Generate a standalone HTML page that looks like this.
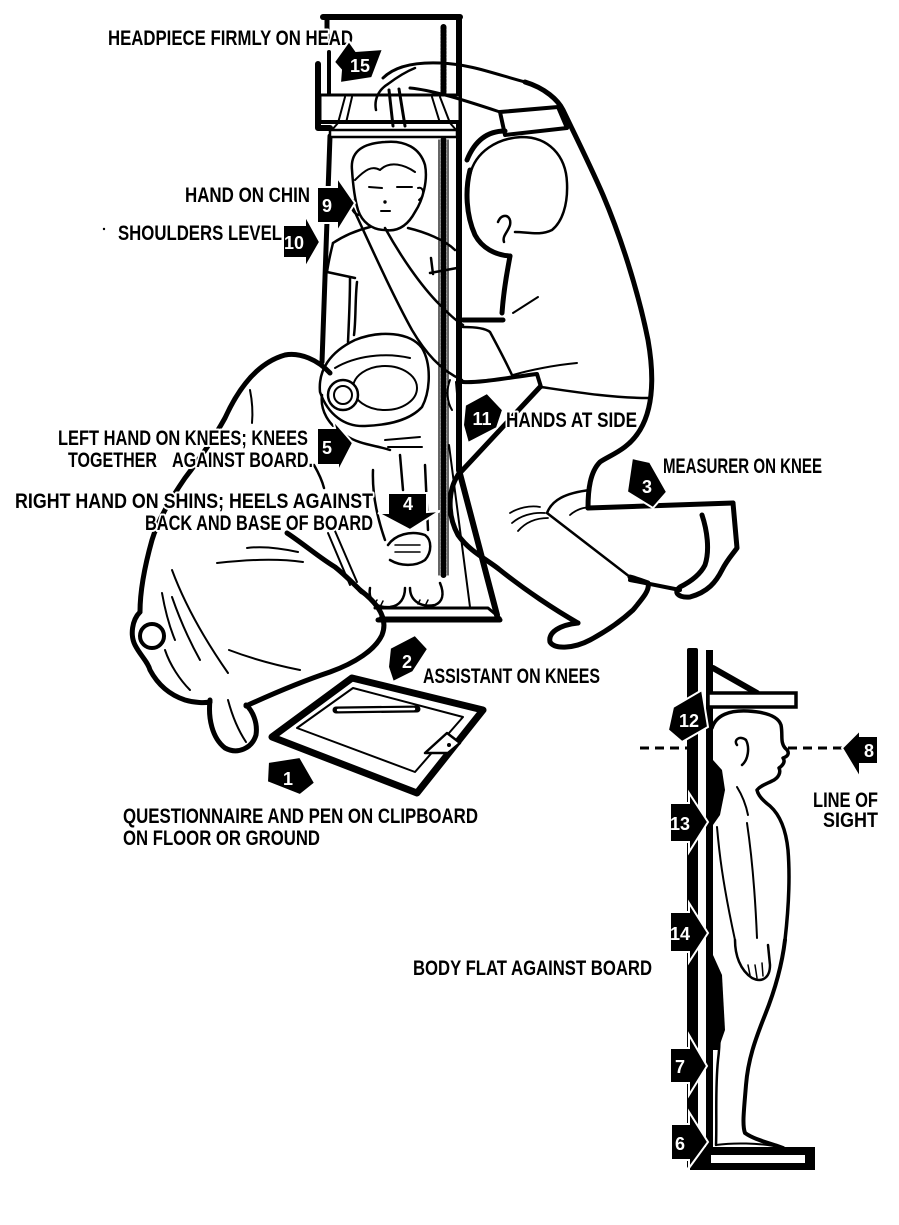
<!DOCTYPE html>
<html><head><meta charset="utf-8">
<style>
html,body{margin:0;padding:0;background:#fff;}
svg{display:block;}
.t{font-family:"Liberation Sans Narrow","Liberation Sans",sans-serif;font-weight:bold;font-size:21px;fill:#000;stroke:#fff;stroke-width:4px;paint-order:stroke;stroke-linejoin:round;}
.n{font-family:"Liberation Sans Narrow","Liberation Sans",sans-serif;font-weight:bold;font-size:18px;fill:#fff;text-anchor:middle;}
</style></head><body>
<svg width="899" height="1225" viewBox="0 0 899 1225" xmlns="http://www.w3.org/2000/svg">
<rect width="899" height="1225" fill="#fff"/>

<g fill="none" stroke="#000" stroke-linecap="round" stroke-linejoin="round">
  <!-- ===== Seated measuring board ===== -->
  <path d="M323,17 H460" stroke-width="6"/>
  <path d="M327,17 V40" stroke-width="5"/>
  <path d="M459,17 V470 L497,615" stroke-width="6"/>
  <path d="M449,445 L470,607" stroke-width="2"/>
  <!-- tape -->
  <path d="M443.5,27 V95" stroke-width="6" stroke-dasharray="2 1.5"/>
  <path d="M443.5,140 V575" stroke-width="6" stroke-dasharray="2 1.5"/>
  <path d="M439,140 V575 M448,140 V575" stroke-width="1.2"/>
  <!-- board left edge -->
  <path d="M330,136 L322,362" stroke-width="5"/>
  <path d="M314,465 C318,472 322,480 324,488" stroke-width="2.5"/>
  <path d="M328,533 L350,585 M335,531 L357,582" stroke-width="2"/>
  <!-- base -->
  <path d="M375,608 H488 L500,618 H380" stroke-width="3"/>
  <path d="M378,620 H500" stroke-width="5"/>
  <!-- clamp -->
  <path d="M318,64 V128 H330" stroke-width="6"/>
  <path d="M329,52 V96" stroke-width="4"/>
  <!-- headpiece -->
  <rect x="320" y="95" width="140" height="27" stroke-width="3" fill="#fff"/>
  <path d="M320,122 H460" stroke-width="4"/>
  <path d="M345,97 L338,123 M352,97 L346,123 M432,97 L440,123 M440,97 L450,123" stroke-width="2"/>
  <path d="M338,123 L331,131 M450,123 L457,131" stroke-width="2"/>
  <rect x="330" y="130" width="127" height="7" stroke-width="2.5" fill="#fff"/>

  <!-- ===== Measurer ===== -->
  <path d="M376,110 C374,100 378,90 388,84 C396,78 405,72 415,68" stroke-width="2.5"/>
  <path d="M389,90 L393,126 M399,89 L405,126" stroke-width="3"/>
  <path d="M383,78 C395,66 415,62 440,63 C470,64 495,74 525,82" stroke-width="3"/>
  <path d="M410,88 C430,90 455,97 500,112" stroke-width="3"/>
  <polygon points="500,112 558,107 567,128 505,135" fill="#fff" stroke-width="4"/>
  <path d="M525,82 C545,88 558,100 563,110 C575,135 590,165 603,195 C620,235 638,290 648,340 C655,380 652,410 640,430 C628,450 610,455 600,462 C590,472 588,490 588,508" stroke-width="5"/>
  <path d="M467,160 C475,140 488,131 505,131" stroke-width="5"/>
  <path d="M470,175 C475,152 497,138 522,137 C548,137 566,155 567,183 C568,205 562,222 552,230 C540,236 528,232 515,232" stroke-width="2.5"/>
  <path d="M470,170 C465,190 466,215 475,235 C482,248 495,255 510,256" stroke-width="5"/>
  <path d="M498,222 C502,212 512,215 510,225 C508,232 502,236 504,242" stroke-width="2.5"/>
  <path d="M510,256 C508,268 504,285 502,313" stroke-width="5"/>
  <path d="M463,320 H503" stroke-width="5"/>
  <path d="M463,327 C475,327 485,328 490,332 C497,345 505,360 512,375" stroke-width="2.5"/>
  <path d="M513,313 L538,297" stroke-width="2"/>
  <path d="M513,375 C530,370 555,365 577,363" stroke-width="2"/>
  <path d="M463,382 C480,383 505,378 537,374 L541,387" stroke-width="4"/>
  <path d="M541,387 C575,392 612,398 648,398" stroke-width="2.5"/>
  <path d="M540,387 L458,475" stroke-width="5"/>
  <path d="M450,380 C446,390 447,402 452,410 M456,382 L458,405" stroke-width="2"/>
  <path d="M458,475 C448,490 447,515 458,535 C470,552 488,560 500,570 C525,590 555,610 578,623" stroke-width="5"/>
  <path d="M578,623 C560,625 548,632 550,642 C555,650 575,648 590,640 C605,632 620,622 633,610 C643,598 650,590 648,583 C640,580 634,578 630,577" stroke-width="5"/>
  <path d="M547,513 L630,577" stroke-width="2.5"/>
  <path d="M547,513 C552,500 565,493 590,490" stroke-width="2.5"/>
  <path d="M630,580 L680,590" stroke-width="4"/>
  <path d="M588,508 L733,503" stroke-width="5"/>
  <path d="M733,503 L737,548 C732,555 727,560 722,570 C716,582 708,592 690,597 C678,598 673,592 680,587 C690,582 700,575 705,565 C710,550 707,530 702,515" stroke-width="5"/>
  <path d="M510,513 C518,508 530,505 540,507 M512,523 C520,516 532,512 545,513 M518,531 C525,523 535,518 548,518 M570,515 C578,508 588,506 596,508" stroke-width="1.8"/>

  <!-- ===== Seated child ===== -->
  <path d="M352,170 C350,150 365,143 385,142 C405,140 420,148 425,165 C428,180 423,200 415,212 C408,225 398,232 385,230 C372,230 362,222 358,210 C355,200 353,185 352,170 Z" stroke-width="2.5" fill="#fff"/>
  <path d="M355,180 C365,170 372,165 380,170 C390,160 405,165 415,172" stroke-width="2"/>
  <path d="M369,187 L382,188 M397,187 L412,187 M381,211 L390,211" stroke-width="2"/>
  <circle cx="385" cy="202" r="1.2" fill="#000"/>
  <path d="M418,188 C424,186 425,196 419,200" stroke-width="2"/>
  <path d="M353,200 C350,206 352,212 358,215" stroke-width="2.5"/>
  <path d="M353,208 C368,240 390,290 412,330 C425,352 440,370 462,380" stroke-width="2.5"/>
  <path d="M385,228 C400,255 420,285 440,305 C448,313 455,320 463,325" stroke-width="2.5"/>
  <path d="M333,243 C345,235 358,230 370,227" stroke-width="2.5"/>
  <path d="M333,243 C330,255 328,265 327,272 L355,278" stroke-width="2.5"/>
  <path d="M408,228 C425,232 445,240 455,250" stroke-width="2.5"/>
  <path d="M430,273 L457,268 M431,258 L433,274" stroke-width="2.5"/>
  <path d="M350,278 C350,300 349,320 348,342 M357,282 C355,300 356,320 354,335" stroke-width="2.5"/>
  <path d="M373,470 C372,495 378,520 385,540" stroke-width="2.5"/>
  <path d="M425,465 L428,530 M400,455 L403,490" stroke-width="2.5"/>
  <path d="M388,545 C395,535 410,530 425,535 C432,540 432,552 425,560 C415,567 400,566 390,560" stroke-width="2.5"/>
  <path d="M395,545 H420 M395,552 H420" stroke-width="1.5"/>
  <path d="M370,588 C368,600 375,608 390,607 C400,606 405,598 405,588" stroke-width="2.5"/>
  <path d="M410,588 C410,600 420,608 435,605 C442,602 445,595 440,583" stroke-width="2.5"/>
  <path d="M375,603 L377,600 M381,605 L383,601 M418,604 L420,600 M426,604 L428,600" stroke-width="1.5"/>

  <!-- ===== Assistant ===== -->
  <path d="M320,392 C318,370 330,352 355,340 C380,330 410,332 422,348 C432,365 430,392 422,407 C410,420 390,425 365,426 C345,427 328,415 320,392 Z" stroke-width="2.5" fill="#fff"/>
  <ellipse cx="385" cy="388" rx="32" ry="22" stroke-width="2"/>
  <path d="M335,368 C355,356 385,352 410,358" stroke-width="2"/>
  <circle cx="343" cy="395" r="15" stroke-width="2.5" fill="#fff"/>
  <circle cx="343" cy="395" r="9" stroke-width="2"/>
  <path d="M322,395 C320,410 328,425 345,435 C360,445 375,445 390,450" stroke-width="2.5"/>
  <path d="M385,440 L420,437 M388,447 L422,447" stroke-width="2"/>
  <path d="M330,373 C318,360 300,352 285,355 C260,362 240,385 225,418 C210,445 195,465 185,478 C170,500 158,520 152,540 C145,565 140,590 140,612" stroke-width="5"/>
  <path d="M250,390 C252,400 253,412 252,423" stroke-width="2"/>
  <path d="M140,612 C132,620 130,635 135,645 C140,655 148,662 150,670 C158,685 170,695 185,700 C195,703 205,703 210,702" stroke-width="5"/>
  <circle cx="152" cy="636" r="12" stroke-width="4" fill="#fff"/>
  <path d="M165,650 C170,665 180,680 190,690" stroke-width="2"/>
  <path d="M210,700 C208,718 212,738 225,748 C238,755 252,748 256,735 C258,722 252,710 246,705" stroke-width="5"/>
  <path d="M228,700 C232,715 238,730 246,742" stroke-width="2"/>
  <path d="M246,706 C270,695 300,682 330,672 C355,663 375,650 382,635 C388,620 380,605 360,590" stroke-width="5"/>
  <path d="M287,533 C305,545 320,558 335,567 C345,575 355,585 362,592" stroke-width="5"/>
  <path d="M247,548 C262,546 280,548 298,552" stroke-width="2"/>
  <path d="M217,563 C245,560 275,558 303,562" stroke-width="2"/>
  <path d="M172,570 C185,605 205,640 228,673" stroke-width="2"/>
  <path d="M162,593 C165,610 170,628 175,640" stroke-width="2"/>
  <path d="M172,597 C180,620 190,642 200,660" stroke-width="2"/>
  <path d="M229,650 C250,658 275,665 300,670" stroke-width="2"/>

  <!-- ===== Clipboard ===== -->
  <polygon points="272,737 352,678 483,710 417,793" stroke-width="7" fill="#fff"/>
  <polygon points="297,728 353,688 463,717 415,772" stroke-width="2"/>
  <path d="M336,710 L417,709" stroke-width="7"/>
  <path d="M338,710 L414,709" stroke="#fff" stroke-width="2.5"/>
  <polygon points="425,753 447,733 460,743 448,753" fill="#fff" stroke-width="2.5"/>
  <circle cx="449" cy="745" r="1.5" fill="#000"/>

  <!-- ===== Standing child ===== -->
  <path d="M640,748 H687 M788,748 H842" stroke-width="3" stroke-dasharray="9 6" stroke-linecap="butt"/>
  <path d="M713,668 L757,693" stroke-width="6"/>
  <path d="M713,668 L708,668 L708,692" stroke-width="3"/>
  <path d="M712,728 C716,715 730,710 748,711 C765,712 778,716 781,725 C783,735 780,742 785,748 C790,752 789,756 783,758 C786,762 782,766 779,768 C781,772 779,778 772,781 C766,784 760,786 757,790 C758,795 762,800 770,806 C780,815 786,830 788,850 C790,875 789,905 785,940" stroke-width="3.5"/>
  <path d="M737,745 C733,740 740,735 746,740 C750,748 748,760 742,765" stroke-width="2.5"/>
  <path d="M737,787 C742,795 746,805 748,815" stroke-width="2"/>
  <path d="M717,827 C719,850 722,880 735,940" stroke-width="2"/>
  <path d="M747,823 C751,850 755,890 757,938" stroke-width="2"/>
  <path d="M735,940 C735,955 740,970 752,978 C762,983 770,978 770,965 L768,945" stroke-width="2.5"/>
  <path d="M748,965 L750,975 M755,965 L757,978 M762,963 L763,976" stroke-width="1.5"/>
  <path d="M785,940 C782,965 775,990 765,1015 C755,1040 748,1060 746,1085 C744,1110 742,1125 745,1133 C755,1140 770,1143 783,1148" stroke-width="4"/>
  <path d="M713,960 C718,1000 722,1030 718,1060 C715,1090 717,1120 716,1145" stroke-width="2.5"/>
  <path d="M716,1145 C730,1143 760,1142 783,1148" stroke-width="2"/>
</g>

<g fill="#000" stroke="none">
  <rect x="687" y="648" width="11" height="520" rx="2"/>
  <rect x="706" y="650" width="7" height="518"/>
  <polygon points="713,760 722,770 725,790 720,815 713,825"/>
  <polygon points="713,955 722,975 725,1030 718,1050 713,1050"/>
  <rect x="690" y="1147" width="125" height="23"/>
</g>
<rect x="711" y="1155" width="94" height="8" fill="#fff"/>
<rect x="708" y="693" width="88" height="14" fill="#fff" stroke="#000" stroke-width="3.5"/>

<!-- ===== Labels ===== -->
<g class="t">
  <text x="108" y="45" textLength="245" lengthAdjust="spacingAndGlyphs">HEADPIECE FIRMLY ON HEAD</text>
  <text x="185" y="202" textLength="125" lengthAdjust="spacingAndGlyphs">HAND ON CHIN</text>
  <text x="118" y="240" textLength="164" lengthAdjust="spacingAndGlyphs">SHOULDERS LEVEL</text>
  <text x="58" y="445" textLength="250" lengthAdjust="spacingAndGlyphs">LEFT HAND ON KNEES; KNEES</text>
  <text x="68" y="467" textLength="89" lengthAdjust="spacingAndGlyphs">TOGETHER</text>
  <text x="172" y="467" textLength="141" lengthAdjust="spacingAndGlyphs">AGAINST BOARD.</text>
  <text x="15" y="508" textLength="358" lengthAdjust="spacingAndGlyphs">RIGHT HAND ON SHINS; HEELS AGAINST</text>
  <text x="145" y="530" textLength="228" lengthAdjust="spacingAndGlyphs">BACK AND BASE OF BOARD</text>
  <text x="506" y="427" textLength="131" lengthAdjust="spacingAndGlyphs">HANDS AT SIDE</text>
  <text x="663" y="473" textLength="159" lengthAdjust="spacingAndGlyphs">MEASURER ON KNEE</text>
  <text x="423" y="683" textLength="177" lengthAdjust="spacingAndGlyphs">ASSISTANT ON KNEES</text>
  <text x="123" y="823" textLength="355" lengthAdjust="spacingAndGlyphs">QUESTIONNAIRE AND PEN ON CLIPBOARD</text>
  <text x="123" y="845" textLength="197" lengthAdjust="spacingAndGlyphs">ON FLOOR OR GROUND</text>
  <text x="813" y="807" textLength="65" lengthAdjust="spacingAndGlyphs">LINE OF</text>
  <text x="823" y="827" textLength="55" lengthAdjust="spacingAndGlyphs">SIGHT</text>
  <text x="413" y="975" textLength="239" lengthAdjust="spacingAndGlyphs">BODY FLAT AGAINST BOARD</text>
</g>
<circle cx="104" cy="229" r="1.2" fill="#000"/>

<g fill="#000" stroke="#fff" stroke-width="2" stroke-linejoin="miter">
  <polygon points="334,62 349,41 356,51 383,49 372,78 340,83 341,70"/>
  <polygon points="317,187 337,187 337,177 355,203 337,232 337,223 317,223"/>
  <polygon points="283,225 305,225 305,215 320,242 305,268 305,258 283,258"/>
  <polygon points="317,428 335,428 333,420 353,443 338,472 338,465 317,465"/>
  <polygon points="388,493 427,493 427,512 440,511 410,530 378,513 388,513"/>
  <polygon points="465,405 487,393 503,410 497,428 468,443 463,425"/>
  <polygon points="632,458 650,462 667,492 653,508 627,492"/>
  <polygon points="390,648 415,635 428,649 413,672 393,682 388,667"/>
  <polygon points="268,762 300,757 315,783 300,795 267,782"/>
  <polygon points="702,690 708,727 682,742 668,730 673,707"/>
  <polygon points="842,748 860,730 860,736 878,736 878,764 860,764 860,778"/>
  <polygon points="670,803 689,803 689,793 708,822 689,852 689,842 670,842"/>
  <polygon points="670,912 689,912 689,903 708,933 689,962 689,952 670,952"/>
  <polygon points="670,1048 689,1048 689,1035 707,1066 689,1095 689,1083 670,1083"/>
  <polygon points="671,1124 689,1124 689,1112 708,1142 689,1168 689,1160 671,1160"/>
</g>
<g class="n">
  <text x="360" y="72">15</text>
  <text x="327" y="212">9</text>
  <text x="294" y="249">10</text>
  <text x="327" y="454">5</text>
  <text x="408" y="510">4</text>
  <text x="482" y="425">11</text>
  <text x="647" y="493">3</text>
  <text x="407" y="668">2</text>
  <text x="288" y="785">1</text>
  <text x="689" y="727">12</text>
  <text x="869" y="757">8</text>
  <text x="680" y="830">13</text>
  <text x="680" y="940">14</text>
  <text x="680" y="1073">7</text>
  <text x="680" y="1150">6</text>
</g>
</svg>
</body></html>
